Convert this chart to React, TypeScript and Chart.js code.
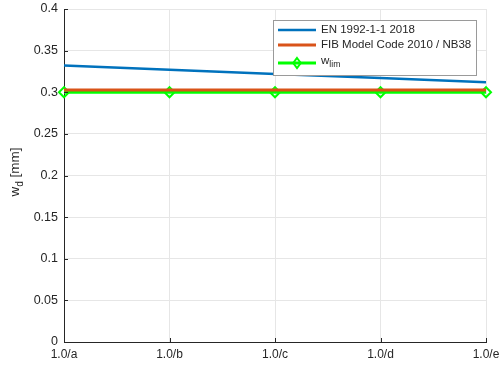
import React, { useEffect, useRef } from "react";
import { Chart, registerables } from "chart.js";

Chart.register(...registerables);

const categories = ["1.0/a", "1.0/b", "1.0/c", "1.0/d", "1.0/e"];
const en1992 = [0.332, 0.327, 0.322, 0.317, 0.312];
const fibModelCode = [0.3027, 0.3027, 0.3027, 0.3027, 0.3027];
const wLim = [0.3, 0.3, 0.3, 0.3, 0.3];
const yTicks = [0, 0.05, 0.1, 0.15, 0.2, 0.25, 0.3, 0.35, 0.4];

const FONT = '"Liberation Sans", Arial, Helvetica, sans-serif';
const AXIS_COLOR = "#262626";
const BLUE = "#0072BD";
const ORANGE = "#D95319";
const GREEN = "#00FF00";

// Draws "base" followed by a subscript, returns total width
function drawSub(ctx: CanvasRenderingContext2D, x: number, y: number, base: string, sub: string, rest: string, size: number) {
  ctx.font = `${size}px ${FONT}`;
  ctx.fillText(base, x, y);
  let w = ctx.measureText(base).width;
  ctx.font = `${size * 0.75}px ${FONT}`;
  ctx.fillText(sub, x + w, y + size * 0.35);
  w += ctx.measureText(sub).width;
  if (rest) {
    ctx.font = `${size}px ${FONT}`;
    ctx.fillText(rest, x + w, y);
    w += ctx.measureText(rest).width;
  }
  return w;
}

function measureSub(ctx: CanvasRenderingContext2D, base: string, sub: string, rest: string, size: number) {
  ctx.font = `${size}px ${FONT}`;
  let w = ctx.measureText(base).width + ctx.measureText(rest).width;
  ctx.font = `${size * 0.75}px ${FONT}`;
  w += ctx.measureText(sub).width;
  return w;
}

function diamond(ctx: CanvasRenderingContext2D, cx: number, cy: number, r: number) {
  ctx.beginPath();
  ctx.moveTo(cx, cy - r);
  ctx.lineTo(cx + r * 0.75, cy);
  ctx.lineTo(cx, cy + r);
  ctx.lineTo(cx - r * 0.75, cy);
  ctx.closePath();
  ctx.stroke();
}

const decorPlugin = {
  id: "decor",
  afterDraw(chart: any) {
    const ctx: CanvasRenderingContext2D = chart.ctx;
    const area = chart.chartArea;
    const xs = chart.scales.x;
    const ys = chart.scales.y;
    ctx.save();

    // inward tick marks
    ctx.strokeStyle = AXIS_COLOR;
    ctx.lineWidth = 1;
    ctx.beginPath();
    yTicks.forEach((v) => {
      const py = Math.round(ys.getPixelForValue(v)) + 0.5;
      ctx.moveTo(area.left, py);
      ctx.lineTo(area.left + 4, py);
    });
    categories.forEach((_, i) => {
      const px = Math.round(xs.getPixelForValue(i)) + 0.5;
      ctx.moveTo(px, area.bottom);
      ctx.lineTo(px, area.bottom - 4);
    });
    ctx.stroke();

    // y-axis title
    ctx.fillStyle = AXIS_COLOR;
    ctx.textBaseline = "middle";
    ctx.textAlign = "left";
    const tSize = 13.5;
    const tw = measureSub(ctx, "w", "d", " [mm]", tSize);
    ctx.translate(15, 172);
    ctx.rotate(-Math.PI / 2);
    drawSub(ctx, -tw / 2, 0, "w", "d", " [mm]", tSize);
    ctx.setTransform(1, 0, 0, 1, 0, 0);

    // legend
    const bx = 273.5, by = 20.5, bw = 203, bh = 55;
    ctx.fillStyle = "#ffffff";
    ctx.fillRect(bx, by, bw, bh);
    ctx.strokeStyle = "#9a9a9a";
    ctx.lineWidth = 1;
    ctx.strokeRect(bx, by, bw, bh);

    const lx0 = 278, lx1 = 316, tx = 321;
    const rows = [30, 45, 63];
    const fs = 11.5;

    ctx.lineCap = "butt";
    ctx.strokeStyle = BLUE;
    ctx.lineWidth = 2.5;
    ctx.beginPath(); ctx.moveTo(lx0, rows[0]); ctx.lineTo(lx1, rows[0]); ctx.stroke();
    ctx.strokeStyle = ORANGE;
    ctx.lineWidth = 3;
    ctx.beginPath(); ctx.moveTo(lx0, rows[1]); ctx.lineTo(lx1, rows[1]); ctx.stroke();
    ctx.strokeStyle = GREEN;
    ctx.lineWidth = 3;
    ctx.beginPath(); ctx.moveTo(lx0, rows[2]); ctx.lineTo(lx1, rows[2]); ctx.stroke();
    ctx.lineWidth = 2;
    diamond(ctx, (lx0 + lx1) / 2, rows[2], 5);

    ctx.fillStyle = AXIS_COLOR;
    ctx.textBaseline = "middle";
    ctx.font = `${fs}px ${FONT}`;
    ctx.fillText("EN 1992-1-1 2018", tx, rows[0]);
    ctx.fillText("FIB Model Code 2010 / NB38", tx, rows[1]);
    drawSub(ctx, tx, rows[2] - 2, "w", "lim", "", fs);

    ctx.restore();
  },
};

export default function App() {
  const ref = useRef<HTMLCanvasElement | null>(null);

  useEffect(() => {
    if (!ref.current) return;
    const chart = new Chart(ref.current, {
      type: "line",
      data: {
        labels: categories,
        datasets: [
          {
            label: "EN 1992-1-1 2018",
            data: en1992,
            borderColor: BLUE,
            borderWidth: 2.5,
            pointRadius: 0,
            tension: 0,
            order: 2,
          },
          {
            label: "FIB Model Code 2010 / NB38",
            data: fibModelCode,
            borderColor: ORANGE,
            borderWidth: 3,
            pointRadius: 0,
            tension: 0,
            order: 0,
          },
          {
            label: "w_lim",
            data: wLim,
            borderColor: GREEN,
            borderWidth: 3,
            pointStyle: "rectRot",
            pointRadius: 5,
            pointBorderWidth: 2,
            pointBorderColor: GREEN,
            pointBackgroundColor: "rgba(0,0,0,0)",
            tension: 0,
            order: 1,
            clip: false as any,
          },
        ],
      },
      options: {
        responsive: false,
        animation: false,
        devicePixelRatio: 1,
        layout: { padding: { top: 9, right: 15, left: 0, bottom: 0 } },
        plugins: {
          legend: { display: false },
          tooltip: { enabled: false },
        },
        scales: {
          x: {
            type: "category",
            offset: false,
            grid: { color: "#e6e6e6", drawTicks: false },
            border: { color: AXIS_COLOR, width: 1 },
            ticks: {
              color: AXIS_COLOR,
              font: { family: FONT, size: 12 },
              padding: 5,
              maxRotation: 0,
              autoSkip: false,
            },
            afterFit: (s: any) => {
              s.height = 30;
              s.paddingLeft = 0;
              s.paddingRight = 0;
            },
          },
          y: {
            min: 0,
            max: 0.4,
            grid: { color: "#e6e6e6", drawTicks: false },
            border: { color: AXIS_COLOR, width: 1 },
            ticks: {
              stepSize: 0.05,
              color: AXIS_COLOR,
              font: { family: FONT, size: 12.5 },
              padding: 6,
              callback: (v: any) => String(Number(Number(v).toFixed(2))),
            },
            afterFit: (s: any) => {
              s.width = 64;
              s.paddingTop = 0;
              s.paddingBottom = 0;
            },
          },
        },
      },
      plugins: [decorPlugin],
    });
    return () => chart.destroy();
  }, []);

  return (
    <div style={{ position: "fixed", left: 0, top: 0, width: 501, height: 372, background: "#fff" }}>
      <canvas ref={ref} width={501} height={372} style={{ display: "block" }} />
    </div>
  );
}
